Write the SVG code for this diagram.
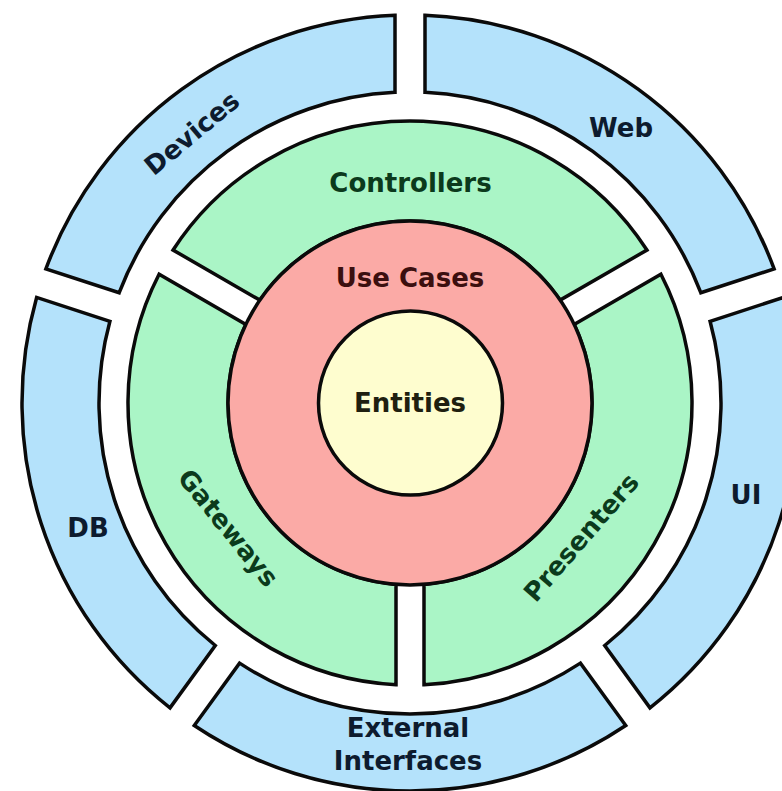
<svg xmlns="http://www.w3.org/2000/svg" width="782" height="791" viewBox="0 0 782 791">
<style>
.seg{stroke:#0a0a0a;stroke-width:3.5;stroke-linejoin:miter}
.blue{fill:#b4e2fb}
.green{fill:#aaf5c6}
.red{fill:#fbaaa6}
.yellow{fill:#fefdcf}
text{font-family:"DejaVu Sans","Liberation Sans",sans-serif;font-weight:bold;font-size:26px;text-anchor:middle}
.tb{fill:#0d1b2e}
.tg{fill:#0b3a1c}
.tr{fill:#3b0f0f}
.ty{fill:#1f1f10}
</style>
<rect width="782" height="791" fill="#ffffff"/>
<g id="devices">
<path class="seg blue" d="M395,15.29 A388,388 0 0 0 45.89,268.93 L119.2,292.74 A311,311 0 0 1 395,92.36 Z"/>
<text class="tb" transform="translate(197.6,140.2) rotate(-39.6)">Devices</text>
</g>
<g id="web">
<path class="seg blue" d="M774.11,268.93 A388,388 0 0 0 425,15.29 L425,92.36 A311,311 0 0 1 700.8,292.74 Z"/>
<text class="tb" x="621" y="137">Web</text>
</g>
<g id="db">
<path class="seg blue" d="M36.63,297.45 A388,388 0 0 0 170.01,707.88 L215.28,645.51 A311,311 0 0 1 109.93,321.28 Z"/>
<text class="tb" x="88" y="537">DB</text>
</g>
<g id="ui">
<path class="seg blue" d="M649.99,707.88 A388,388 0 0 0 783.37,297.45 L710.07,321.28 A311,311 0 0 1 604.72,645.51 Z"/>
<text class="tb" x="746" y="504">UI</text>
</g>
<g id="external-interfaces">
<path class="seg blue" d="M194.26,725.49 A388,388 0 0 0 625.74,725.49 L580.43,663.15 A311,311 0 0 1 239.57,663.15 Z"/>
<text class="tb" x="408" y="737">External</text>
<text class="tb" x="408" y="770">Interfaces</text>
</g>
<g id="controllers">
<path class="seg green" d="M646.92,250.05 A282,282 0 0 0 173.08,250.05 L259.86,300.13 A182,182 0 0 1 560.14,300.13 Z"/>
<text class="tg" x="410.5" y="192">Controllers</text>
</g>
<g id="gateways">
<path class="seg green" d="M159.08,274.29 A282,282 0 0 0 396,684.65 L396,584.46 A182,182 0 0 1 245.85,324.39 Z"/>
<text class="tg" transform="translate(221.3,533.5) rotate(51)">Gateways</text>
</g>
<g id="presenters">
<path class="seg green" d="M424,684.65 A282,282 0 0 0 660.92,274.29 L574.15,324.39 A182,182 0 0 1 424,584.46 Z"/>
<text class="tg" transform="translate(588,543.2) rotate(-49)">Presenters</text>
</g>
<g id="use-cases">
<circle class="seg red" cx="410" cy="403" r="182"/>
<text class="tr" x="410" y="287">Use Cases</text>
</g>
<g id="entities">
<circle class="seg yellow" cx="410.5" cy="403" r="92"/>
<text class="ty" x="410" y="412">Entities</text>
</g>
</svg>
